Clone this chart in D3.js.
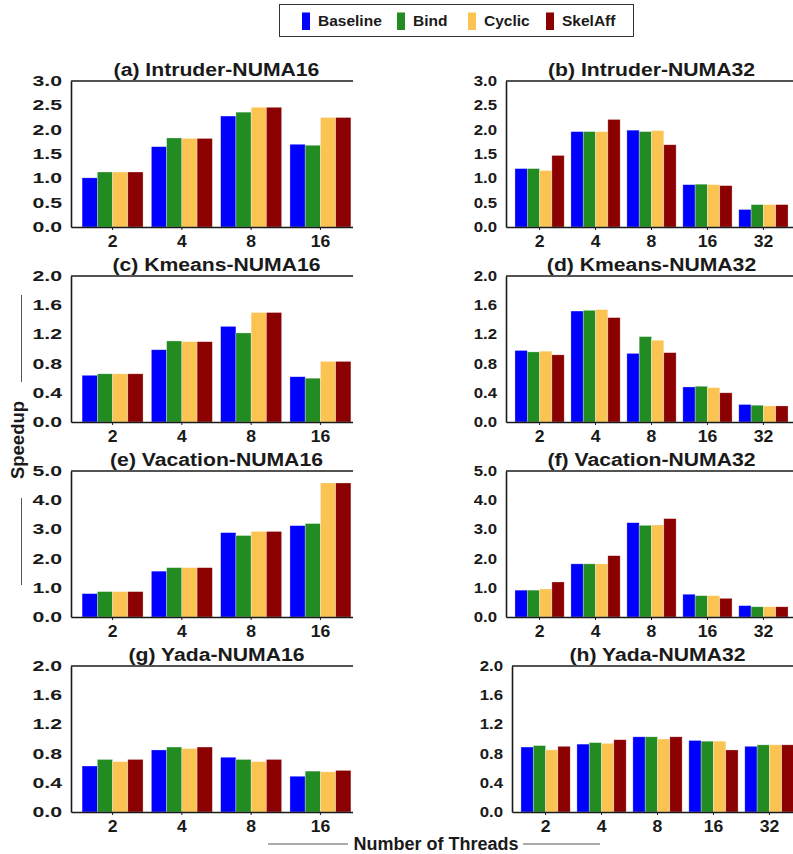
<!DOCTYPE html>
<html>
<head>
<meta charset="utf-8">
<script src="https://cdn.jsdelivr.net/npm/d3@7"></script>
<style>
  body { margin: 0; background: #fff; }
  svg { display: block; font-family: "Liberation Sans", Arial, sans-serif; font-weight: bold; }
</style>
</head>
<body>
<svg id="chart" width="793" height="854"></svg>
<script>
// categories and series
var threads16 = ["2", "4", "8", "16"];
var threads32 = ["2", "4", "8", "16", "32"];
var series = ["Baseline", "Bind", "Cyclic", "SkelAff"];
var colors = ["#0000ff", "#228b22", "#fbc352", "#8b0000"];

// tick labels
var ticksHalf = [0, 0.5, 1.0, 1.5, 2.0, 2.5, 3.0];
var ticksFifth = [0, 0.4, 0.8, 1.2, 1.6, 2.0];
var ticksOne = [0, 1, 2, 3, 4, 5];

// speedup values, one row per thread count: Baseline, Bind, Cyclic, SkelAff
var intruder16 = [[1.01, 1.13, 1.13, 1.13], [1.65, 1.83, 1.82, 1.82], [2.28, 2.36, 2.46, 2.46], [1.70, 1.68, 2.25, 2.25]];
var intruder32 = [[1.20, 1.20, 1.16, 1.47], [1.96, 1.96, 1.96, 2.21], [1.99, 1.96, 1.98, 1.69], [0.87, 0.88, 0.87, 0.85], [0.36, 0.46, 0.46, 0.46]];
var kmeans16 = [[0.64, 0.66, 0.66, 0.66], [0.99, 1.11, 1.10, 1.10], [1.31, 1.22, 1.50, 1.50], [0.62, 0.60, 0.83, 0.83]];
var kmeans32 = [[0.98, 0.96, 0.97, 0.92], [1.52, 1.53, 1.54, 1.43], [0.94, 1.17, 1.12, 0.95], [0.48, 0.49, 0.47, 0.40], [0.24, 0.23, 0.22, 0.22]];
var vacation16 = [[0.80, 0.87, 0.87, 0.87], [1.57, 1.69, 1.69, 1.69], [2.89, 2.79, 2.93, 2.93], [3.13, 3.20, 4.59, 4.59]];
var vacation32 = [[0.92, 0.92, 0.96, 1.20], [1.82, 1.82, 1.82, 2.10], [3.23, 3.14, 3.15, 3.37], [0.78, 0.73, 0.73, 0.64], [0.39, 0.35, 0.35, 0.35]];
var yada16 = [[0.63, 0.72, 0.69, 0.72], [0.85, 0.89, 0.87, 0.89], [0.75, 0.72, 0.69, 0.72], [0.49, 0.56, 0.55, 0.57]];
var yada32 = [[0.89, 0.91, 0.85, 0.90], [0.93, 0.95, 0.94, 0.99], [1.03, 1.03, 1.00, 1.03], [0.98, 0.97, 0.97, 0.85], [0.90, 0.92, 0.92, 0.92]];

var panels = [
  {title: "(a) Intruder-NUMA16", cats: threads16, vals: intruder16, ticks: ticksHalf, col: 0, row: 0},
  {title: "(b) Intruder-NUMA32", cats: threads32, vals: intruder32, ticks: ticksHalf, col: 1, row: 0},
  {title: "(c) Kmeans-NUMA16", cats: threads16, vals: kmeans16, ticks: ticksFifth, col: 0, row: 1},
  {title: "(d) Kmeans-NUMA32", cats: threads32, vals: kmeans32, ticks: ticksFifth, col: 1, row: 1},
  {title: "(e) Vacation-NUMA16", cats: threads16, vals: vacation16, ticks: ticksOne, col: 0, row: 2},
  {title: "(f) Vacation-NUMA32", cats: threads32, vals: vacation32, ticks: ticksOne, col: 1, row: 2},
  {title: "(g) Yada-NUMA16", cats: threads16, vals: yada16, ticks: ticksFifth, col: 0, row: 3},
  {title: "(h) Yada-NUMA32", cats: threads32, vals: yada32, ticks: ticksFifth, col: 1, row: 3, shift: 6}
];

var svg = d3.select("#chart");
var pw = 291, ph = 146;
var lefts = [71, 506];
var tops = [81, 276, 471, 666];
var ink = "#1a1a1a";

// left column is cut off a bit before its right edge
svg.append("defs").append("clipPath").attr("id", "clipLeft")
  .append("rect").attr("x", -80).attr("y", -40).attr("width", 80 + 282).attr("height", 240);

panels.forEach(function(p) {
  var left = lefts[p.col] + (p.shift || 0);
  var g = svg.append("g").attr("transform", "translate(" + left + "," + tops[p.row] + ")");
  if (p.col === 0) g.attr("clip-path", "url(#clipLeft)");

  var x0 = d3.scaleBand().domain(p.cats).range([0, pw]).paddingInner(0.12).paddingOuter(0.16);
  var x1 = d3.scaleBand().domain(series).range([0, x0.bandwidth()]);
  var y = d3.scaleLinear().domain([0, d3.max(p.ticks)]).range([ph, 0]);

  var groups = g.selectAll("g.grp").data(p.vals).enter().append("g")
    .attr("class", "grp")
    .attr("transform", function(d, i) { return "translate(" + x0(p.cats[i]) + ",0)"; });
  groups.selectAll("rect").data(function(d) { return d; }).enter().append("rect")
    .attr("x", function(d, i) { return x1(series[i]); })
    .attr("y", function(d) { return y(d); })
    .attr("width", x1.bandwidth())
    .attr("height", function(d) { return ph - y(d); })
    .attr("fill", function(d, i) { return colors[i]; })
    .attr("stroke", "#fff").attr("stroke-width", 0.6).attr("stroke-opacity", 0.5);

  // frame top
  g.append("line").attr("x1", 0).attr("x2", pw).attr("y1", 0).attr("y2", 0)
    .attr("stroke", ink).attr("stroke-width", 1.5);

  var sxY = p.col === 0 ? 1.52 : 1.2;
  var yAxis = g.append("g").call(d3.axisLeft(y).tickValues(p.ticks).tickFormat(d3.format(".1f"))
    .tickSize(0).tickPadding(9 / sxY));
  yAxis.select(".domain").attr("stroke", ink).attr("stroke-width", 1.6);
  yAxis.selectAll("text").attr("font-size", 14).attr("font-family", null).attr("fill", ink)
    .attr("transform", "scale(" + sxY + ",1)");

  var xAxis = g.append("g").attr("transform", "translate(0," + ph + ")")
    .call(d3.axisBottom(x0).tickSizeInner(3).tickSizeOuter(0).tickPadding(5.5));
  xAxis.select(".domain").attr("stroke", ink).attr("stroke-width", 1.6);
  xAxis.selectAll("line").attr("stroke", ink);
  xAxis.selectAll("text").attr("font-size", 16).attr("font-family", null).attr("fill", ink)
    .attr("transform", "scale(1.1,1)");

  svg.append("text")
    .attr("transform", "translate(" + (left + pw / 2) + "," + (tops[p.row] - 5) + ") scale(1.19,1)")
    .attr("text-anchor", "middle").attr("font-size", 17.8).attr("fill", ink)
    .text(p.title);
});

// legend
var lg = svg.append("g");
lg.append("rect").attr("x", 279.5).attr("y", 4.5).attr("width", 354).attr("height", 32)
  .attr("fill", "#fff").attr("stroke", "#333").attr("stroke-width", 1);
var legX = [302, 397, 468, 546];
series.forEach(function(s, i) {
  lg.append("rect").attr("x", legX[i]).attr("y", 12.5).attr("width", 8).attr("height", 17.5)
    .attr("fill", colors[i]);
  lg.append("text").attr("x", legX[i] + 16).attr("y", 26).attr("font-size", 15.5).attr("fill", ink).text(s);
});

// axis titles with side rules
svg.append("text").attr("x", 436).attr("y", 850).attr("text-anchor", "middle")
  .attr("font-size", 18).attr("fill", ink).text("Number of Threads");
svg.append("line").attr("x1", 268).attr("x2", 348).attr("y1", 844).attr("y2", 844).attr("stroke", "#555");
svg.append("line").attr("x1", 523).attr("x2", 600).attr("y1", 844).attr("y2", 844).attr("stroke", "#555");

svg.append("text").attr("transform", "translate(24,440) rotate(-90)").attr("text-anchor", "middle")
  .attr("font-size", 18.5).attr("fill", ink).text("Speedup");
svg.append("line").attr("x1", 21.5).attr("x2", 21.5).attr("y1", 498).attr("y2", 585).attr("stroke", "#555");
svg.append("line").attr("x1", 21.5).attr("x2", 21.5).attr("y1", 295).attr("y2", 382).attr("stroke", "#555");
</script>
</body>
</html>
